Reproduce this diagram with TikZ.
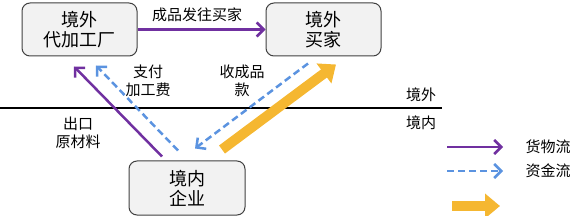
\documentclass[tikz,border=0pt]{standalone}
\usepackage{fontspec}
\setmainfont{Noto Sans CJK SC}
\usetikzlibrary{arrows.meta,calc}
\definecolor{goods}{HTML}{7030A0}
\definecolor{money}{HTML}{5B93E0}
\definecolor{orng}{HTML}{F5B731}
\definecolor{boxfill}{HTML}{F2F2F2}
\definecolor{boxline}{HTML}{404040}
\begin{document}
\begin{tikzpicture}[x=1pt,y=-1pt,
  box/.style={draw=boxline, fill=boxfill, rounded corners=8pt, line width=1pt,
    minimum width=115pt, minimum height=53pt, align=center, inner sep=0pt,
    font=\fontsize{18}{20}\selectfont},
  lbl/.style={align=center, inner sep=0pt, font=\fontsize{15}{18}\selectfont},
  goodsarrow/.style={draw=goods, line width=2.5pt, -{Straight Barb[length=7pt,width=14pt,line width=2.5pt]}},
  moneyarrow/.style={draw=money, line width=2.5pt, dash pattern=on 7pt off 4pt,
    -{Straight Barb[length=7pt,width=14pt,line width=2.5pt]}},
  orangearrow/.style={draw=orng, line width=10pt, -{Triangle[length=15pt,width=24pt]}}
]
\useasboundingbox (0,0) rectangle (588,216);
\node[box] (fac) at (79.5,29.5) {境外\\代加工厂};
\node[box] (buy) at (323.5,29.5) {境外\\买家};
\node[box, minimum width=116pt, minimum height=54pt] (ent) at (187,188) {境内\\企业};

% border line
\draw[line width=2pt] (0,108) -- (442,108);
\node[lbl] (out) at (421,95) {境外};
\node[lbl] (in) at (421,123) {境内};

% flows
\draw[goodsarrow] (fac.east) -- (buy.west);
\node[lbl] (l1) at (197,15) {成品发往买家};

\draw[goodsarrow] ($(ent.north)+(-25,-4)$) -- ($(fac.south)+(-5.5,10)$);
\node[lbl] (l2) at (78,133) {出口\\原材料};

\draw[moneyarrow] ($(ent.north)+(-9,-10)$) -- ($(fac.south)+(16.5,9)$);
\node[lbl] (l3) at (148,81) {支付\\加工费};

\draw[moneyarrow] ($(buy.south)+(-15.5,7)$) -- ($(ent.north)+(8,-12)$);
\node[lbl] (l4) at (242,81) {收成品\\款};

\draw[orangearrow] ($(ent.north)+(35,-11)$) -- ($(buy.south)+(12.5,8)$);

% legend
\coordinate (g1) at (447,147);
\coordinate (g2) at (503,147);
\draw[goodsarrow] (g1) -- (g2);
\node[lbl] (lg1) at (548,147) {货物流};
\coordinate (m1) at (447,171);
\coordinate (m2) at (503,171);
\draw[moneyarrow] (m1) -- (m2);
\node[lbl] (lg2) at (548,171) {资金流};
\coordinate (o1) at (452,206);
\coordinate (o2) at (500,206);
\draw[orangearrow] (o1) -- (o2);
\end{tikzpicture}
\end{document}
